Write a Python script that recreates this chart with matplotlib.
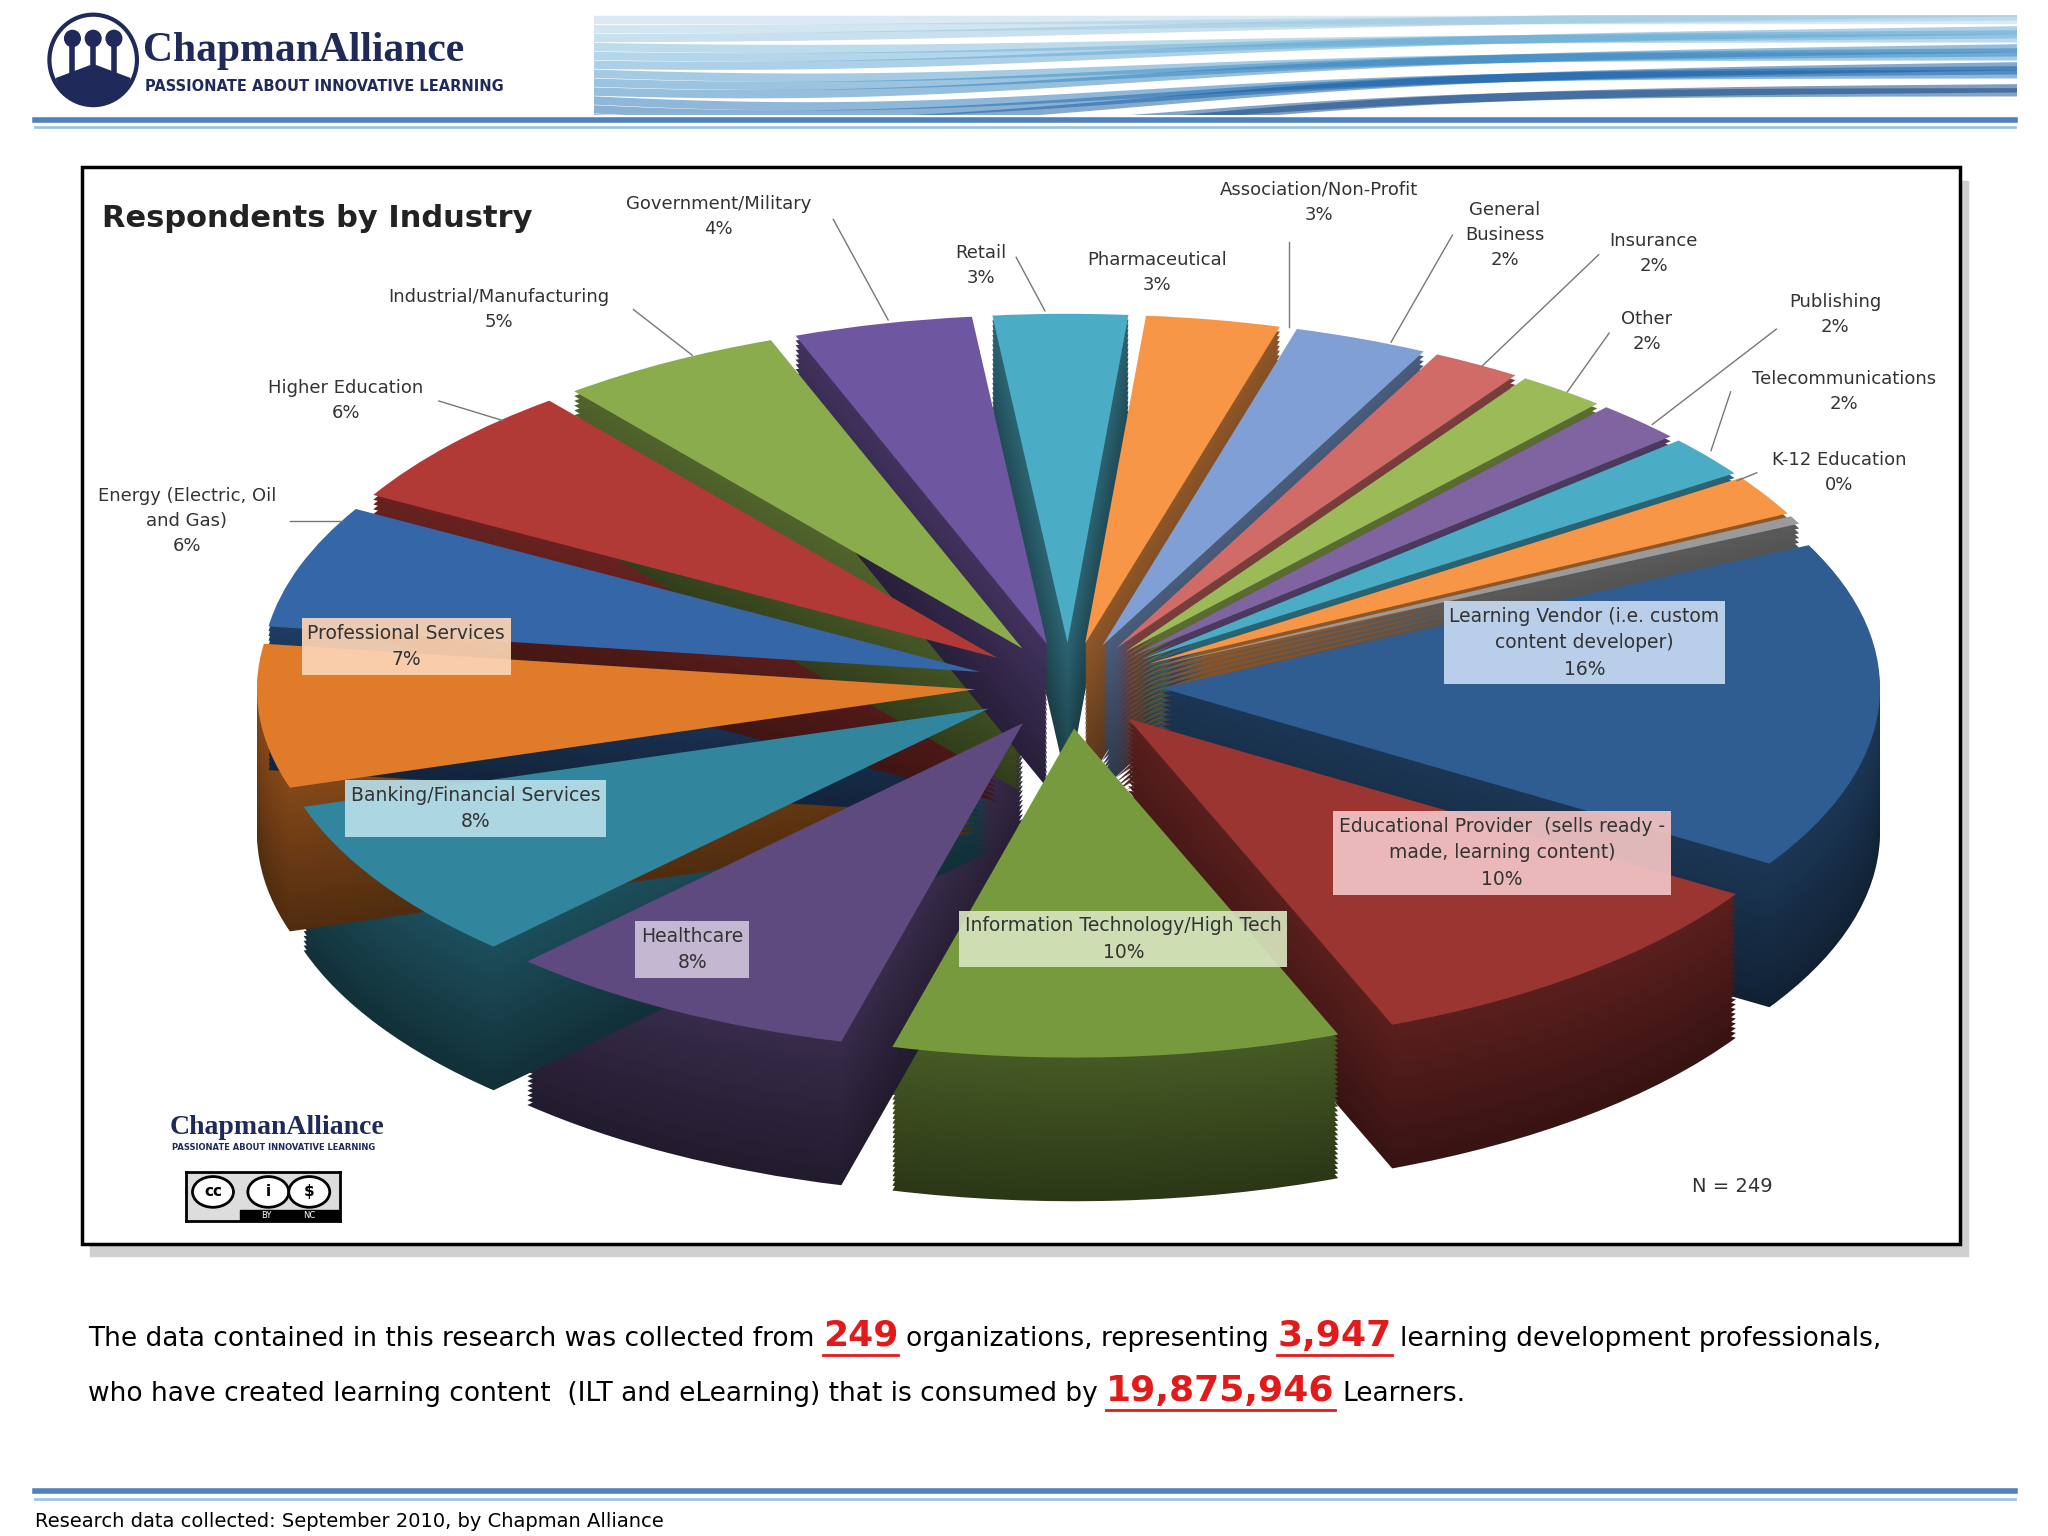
import numpy as np
import matplotlib
matplotlib.use("Agg")
import matplotlib.pyplot as plt
from matplotlib.patches import Rectangle, Wedge, Circle
import matplotlib.colors as mc

categories = ["Retail", "Pharmaceutical", "Association/Non-Profit", "General\nBusiness", "Insurance",
              "Other", "Publishing", "Telecommunications", "K-12 Education",
              "Learning Vendor (i.e. custom\ncontent developer)", "Educational Provider  (sells ready -\nmade, learning content)",
              "Information Technology/High Tech", "Healthcare", "Banking/Financial Services",
              "Professional Services", "Energy (Electric, Oil\nand Gas)", "Higher Education",
              "Industrial/Manufacturing", "Government/Military"]
values = [3, 3, 3, 2, 2, 2, 2, 2, 0.4, 16, 10, 10, 8, 8, 7, 6, 6, 5, 4]
pct_labels = ["3%", "3%", "3%", "2%", "2%", "2%", "2%", "2%", "0%", "16%", "10%", "10%", "8%", "8%",
              "7%", "6%", "6%", "5%", "4%"]
colors = ["#4bacc6", "#f79646", "#7f9fd5", "#d06b68", "#9bbb59", "#8064a2", "#4bacc6", "#f79646",
          "#9a9a9a", "#2f5d91", "#9a3532", "#789a3e", "#5e4a7e", "#31859c", "#e07b2a", "#3566a8",
          "#b23a36", "#8aac4c", "#6f56a0"]
box_colors = {9: "#c6d9f1", 10: "#f2c4c4", 11: "#d7e4bd", 12: "#ccc1da", 13: "#b7dee8", 14: "#fcd5b5"}

W, H = 2048, 1536
RW, RH = 1568, 1176  # reference layout units
def F(x, y):
    return x / RW, 1 - y / RH

# label layout (reference layout units): text centre, leader start, leader end
label_layout = {
    0: ((751, 203), (778, 197), (800, 238)),
    1: ((886, 209), None, None),
    2: ((1010, 155), (987, 185), (987, 250)),
    3: ((1152, 180), (1112, 180), (1065, 262)),
    4: ((1266, 194), (1224, 195), (1135, 280)),
    5: ((1261, 254), (1232, 255), (1200, 300)),
    6: ((1405, 241), (1360, 252), (1265, 325)),
    7: ((1412, 300), (1325, 300), (1310, 345)),
    8: ((1408, 362), (1345, 362), (1330, 368)),
    9: ((1213, 492), None, None),
    10: ((1150, 653), None, None),
    11: ((860, 719), None, None),
    12: ((530, 727), None, None),
    13: ((364, 619), None, None),
    14: ((311, 495), None, None),
    15: ((143, 399), (222, 399), (262, 399)),
    16: ((265, 307), (336, 307), (385, 322)),
    17: ((382, 237), (485, 237), (530, 272)),
    18: ((550, 166), (638, 168), (680, 245)),
}

fig = plt.figure(figsize=(W/100, H/100), dpi=100)
fig.patch.set_facecolor("white")

# header
fig.text(0.07, 0.967, "ChapmanAlliance", fontsize=30, fontweight="bold", color="#1f2a5a",
         family="Liberation Serif", va="center")
fig.text(0.071, 0.944, "PASSIONATE ABOUT INNOVATIVE LEARNING", fontsize=10.5, fontweight="bold",
         color="#1f2a5a", va="center")
lg = fig.add_axes([0.023, 0.93, 0.045, 0.062]); lg.axis("off"); lg.set_xlim(-1, 1); lg.set_ylim(-1, 1)
lg.add_patch(Circle((0, 0), 0.95, fc="white", ec="#1f2a5a", lw=3))
lg.add_patch(Wedge((0, -0.1), 0.85, 200, 340, color="#1f2a5a"))
for dx in (-0.45, 0, 0.45):
    lg.add_patch(Circle((dx, 0.45), 0.17, color="#1f2a5a"))
    lg.plot([dx, dx], [0.25, -0.3], color="#1f2a5a", lw=4)
hx = fig.add_axes([0.29, 0.925, 0.695, 0.065]); hx.axis("off")
hx.set_xlim(0, 1); hx.set_ylim(0, 1)
xs = np.linspace(0, 1, 200)
for k in range(14):
    hx.plot(xs, 0.95 - 0.06*k - 0.5*np.exp(-((xs-0.15)*3)**2)*(k/14) + 0.3*xs*(k % 3)/3,
            color=plt.cm.Blues(0.3 + 0.05*k), lw=6, alpha=0.5)
fig.add_artist(plt.Line2D([0.017, 0.984], [0.922, 0.922], color="#4f81bd", lw=4))
fig.add_artist(plt.Line2D([0.017, 0.984], [0.917, 0.917], color="#9dc3e6", lw=2))

# frame with shadow
fig.add_artist(Rectangle((0.044, 0.182), 0.917, 0.700, transform=fig.transFigure, color="#d0d0d0", zorder=0))
fig.add_artist(Rectangle((0.04, 0.19), 0.917, 0.701, transform=fig.transFigure, facecolor="white",
                         edgecolor="black", lw=2.5, zorder=1))
fig.text(0.05, 0.852, "Respondents by Industry", fontsize=22, fontweight="bold", color="#222", zorder=5)
fig.text(0.826, 0.224, "N = 249", fontsize=14, color="#333", zorder=5)
fig.text(0.083, 0.262, "ChapmanAlliance", fontsize=20, fontweight="bold", color="#1f2a5a",
         family="Liberation Serif", zorder=5)
fig.text(0.084, 0.251, "PASSIONATE ABOUT INNOVATIVE LEARNING", fontsize=6, fontweight="bold",
         color="#1f2a5a", zorder=5)
cc = fig.add_axes([0.091, 0.205, 0.075, 0.032], zorder=5)
cc.set_xlim(0, 7.5); cc.set_ylim(0, 3.2); cc.set_xticks([]); cc.set_yticks([])
cc.set_facecolor("#dddddd")
for s in cc.spines.values():
    s.set_linewidth(2)
for x0, t in ((1.3, "cc"), (4.0, "i"), (6.0, "$")):
    cc.add_patch(Circle((x0, 1.9), 1.0, fc="white", ec="black", lw=2))
    cc.text(x0, 1.9, t, ha="center", va="center", fontsize=11, fontweight="bold")
cc.add_patch(Rectangle((2.6, 0), 4.9, 0.7, color="black"))
cc.text(3.9, 0.35, "BY", color="white", fontsize=6, ha="center", va="center")
cc.text(6.0, 0.35, "NC", color="white", fontsize=6, ha="center", va="center")

# pie, drawn on a full-figure axes with separate x/y scales
cxp, cyp = 818, 525
rx, ry = 550, 252
ax = fig.add_axes([0, 0, 1, 1], zorder=2)
ax.axis("off")
ax.patch.set_alpha(0)
ax.set_xlim(-cxp/rx, (RW-cxp)/rx)
ax.set_ylim(-(RH-cyp)/ry, cyp/ry)
ax.set_aspect("auto")
vals = np.array(values, float)
fr = vals / vals.sum()
angles = []
a = 96.0
for f in fr:
    angles.append((a - f*360, a))
    a -= f*360
explode = [0.13]*len(vals)
depth = 110/ry
nl = 30
for i, (t1, t2) in enumerate(angles):
    mid = np.radians((t1+t2)/2)
    cx, cy = explode[i]*np.cos(mid), explode[i]*np.sin(mid)
    dark = np.array(mc.to_rgb(colors[i])) * 0.45
    for k in range(nl):
        dy = -depth*(1 - k/nl)
        ax.add_patch(Wedge((cx, cy+dy), 1.0, t1, t2, color=np.clip(dark*(0.8+0.5*k/nl), 0, 1), lw=0))
for i, (t1, t2) in enumerate(angles):
    mid = np.radians((t1+t2)/2)
    cx, cy = explode[i]*np.cos(mid), explode[i]*np.sin(mid)
    ax.add_patch(Wedge((cx, cy), 1.0, t1, t2, color=colors[i], lw=0))

for i in range(len(categories)):
    (tx, ty), p0, p1 = label_layout[i]
    txt = categories[i] + "\n" + pct_labels[i]
    if i in box_colors:
        fig.text(*F(tx, ty), txt, ha="center", va="center", fontsize=13.5, color="#333",
                 linespacing=1.5, zorder=6,
                 bbox=dict(boxstyle="square,pad=0.3", fc=box_colors[i], ec="none", alpha=0.92))
    else:
        fig.text(*F(tx, ty), txt, ha="center", va="center", fontsize=13, color="#333",
                 linespacing=1.5, zorder=6)
        if p0 is not None:
            (x0, y0), (x1, y1) = F(*p0), F(*p1)
            fig.add_artist(plt.Line2D([x0, x1], [y0, y1], color="#777", lw=1, zorder=6))

# bottom text
r = fig.canvas.get_renderer()
def line(parts, y):
    x = 0.043
    for txt, red in parts:
        t = fig.text(x, y, txt, fontsize=26 if red else 19, fontweight="bold" if red else "normal",
                     color="#e31a1a" if red else "black", va="baseline")
        bb = t.get_window_extent(r)
        if red:
            fig.add_artist(plt.Line2D([x, x + bb.width/W], [y-0.006, y-0.006], color="#e31a1a", lw=2))
        x += bb.width/W + 0.004
line([("The data contained in this research was collected from", False), ("249", True),
      ("organizations, representing", False), ("3,947", True),
      ("learning development professionals,", False)], 0.124)
line([("who have created learning content  (ILT and eLearning) that is consumed by", False),
      ("19,875,946", True), ("Learners.", False)], 0.088)
fig.add_artist(plt.Line2D([0.017, 0.984], [0.029, 0.029], color="#4f81bd", lw=4))
fig.add_artist(plt.Line2D([0.017, 0.984], [0.024, 0.024], color="#9dc3e6", lw=2))
fig.text(0.017, 0.006, "Research data collected: September 2010, by Chapman Alliance", fontsize=14)

fig.savefig("out.png", dpi=100)
